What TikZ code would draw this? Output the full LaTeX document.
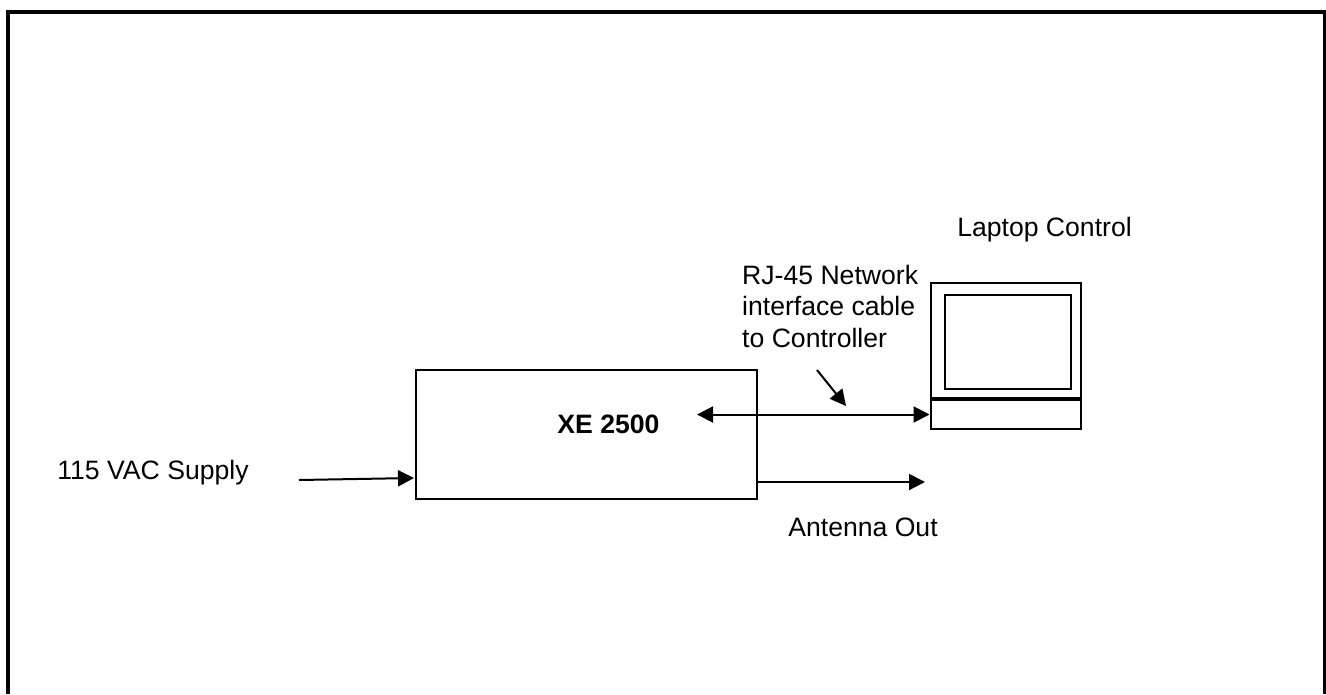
\documentclass[tikz,border=0pt]{standalone}
\usepackage{fontspec}
\setmainfont{Liberation Sans}
\usetikzlibrary{arrows.meta}
\tikzset{
	blockbox/.style={draw, line width=2pt, inner sep=0pt},
	cablearrow/.style={line width=2pt, -{Triangle[length=16pt, width=16pt]}},
	labeltext/.style={inner sep=0pt, font=\fontsize{26.6}{31.5}\selectfont}
}
\begin{document}
\begin{tikzpicture}[x=1pt, y=-1pt]
	\useasboundingbox (0, 0) rectangle (1326, 694);
	\draw[line width=4pt] (8, 694)--(8, 12)--(1325, 12)--(1325, 694);

	\node[blockbox, minimum width=341pt, minimum height=129pt] (xe) at (586.5, 434.5) {};
	\node[labeltext, font=\fontsize{26.6}{31.5}\selectfont\bfseries] (xelabel) at (608.5, 424.5) {XE 2500};

	\node[blockbox, minimum width=150pt, minimum height=117pt] (laptop) at (1005.5, 341.5) {};
	\node[blockbox, minimum width=126pt, minimum height=94pt] (screen) at (1008, 342) {};
	\node[blockbox, minimum width=150pt, minimum height=29pt] (base) at (1005.5, 414.5) {};
	\draw[line width=4pt] (base.north west)--(base.north east);

	\node[labeltext] (supply) at (153, 473) {115 VAC Supply};
	\node[labeltext] (laptoplabel) at (1044.5, 230) {Laptop Control};
	\node[labeltext, align=left, anchor=north west] (rj) at (742, 265) {RJ-45 Network\\interface cable\\to Controller};
	\node[labeltext] (antenna) at (863, 527.5) {Antenna Out};

	\coordinate (supplyend) at (299, 480);
	\coordinate (supplytip) at (414, 478);
	\coordinate (cableend) at (697, 414.5);
	\coordinate (outstart) at (757, 482);
	\coordinate (outtip) at (925, 482);
	\coordinate (pointerstart) at (817, 370);
	\coordinate (pointertip) at (846, 406);

	\draw[cablearrow] (supplyend)--(supplytip);
	\draw[cablearrow, {Triangle[length=16pt, width=16pt]}-{Triangle[length=16pt, width=16pt]}] (cableend)--(base.west);
	\draw[cablearrow] (outstart)--(outtip);
	\draw[cablearrow] (pointerstart)--(pointertip);
\end{tikzpicture}
\end{document}
